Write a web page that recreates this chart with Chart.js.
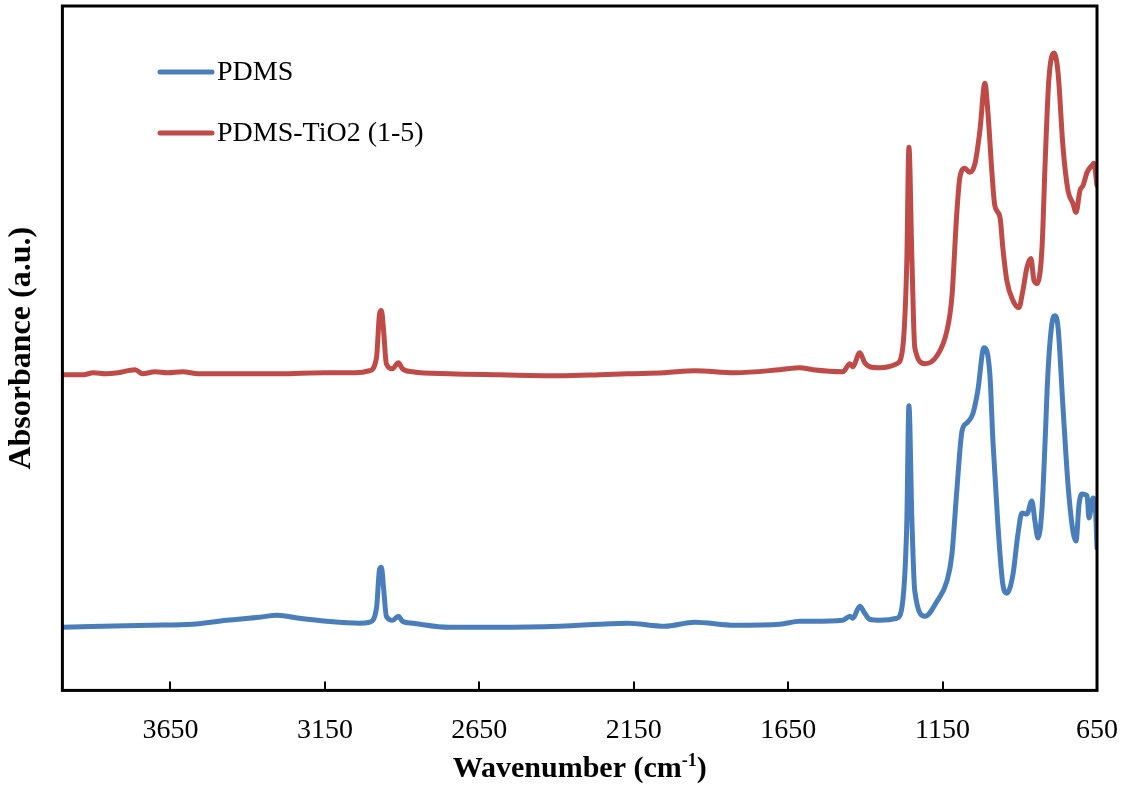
<!DOCTYPE html>
<html>
<head>
<meta charset="utf-8">
<script src="https://cdn.jsdelivr.net/npm/chart.js@4.4.1/dist/chart.umd.min.js"></script>
<style>
  html, body { margin: 0; padding: 0; background: #fff; }
  #wrap { width: 1126px; height: 788px; }
</style>
</head>
<body>
<div id="wrap"><canvas id="ftir"></canvas></div>
<script>
// FTIR spectra, absorbance in arbitrary units (curves offset as in the figure)
const pdmsWavenumber = [4000, 3719, 3579, 3469, 3362, 3304, 3233, 3145, 3038, 3006, 2983, 2973, 2967, 2960, 2951, 2931, 2912, 2899, 2866, 2747, 2584, 2390, 2170, 2050, 1953, 1823, 1677, 1612, 1570, 1473, 1450, 1441, 1418, 1402, 1386, 1353, 1298, 1279, 1266, 1259, 1249, 1240, 1207, 1168, 1136, 1120, 1104, 1087, 1071, 1052, 1036, 1016, 997, 987, 971, 955, 942, 922, 906, 893, 877, 861, 851, 841, 828, 818, 809, 796, 786, 776, 760, 744, 728, 718, 708, 699, 682, 676, 663, 656, 650];
const pdmsAbsorbance = [0.63, 0.65, 0.66, 0.70, 0.73, 0.75, 0.72, 0.69, 0.67, 0.68, 0.82, 1.21, 1.23, 1.02, 0.74, 0.70, 0.74, 0.69, 0.67, 0.63, 0.63, 0.64, 0.67, 0.64, 0.68, 0.65, 0.66, 0.69, 0.69, 0.70, 0.74, 0.72, 0.84, 0.77, 0.71, 0.70, 0.72, 0.89, 1.66, 2.84, 1.66, 0.99, 0.74, 0.89, 1.09, 1.35, 1.99, 2.59, 2.67, 2.76, 2.99, 3.42, 3.16, 2.49, 1.66, 1.06, 0.97, 1.16, 1.56, 1.77, 1.76, 1.89, 1.69, 1.52, 1.82, 2.49, 3.16, 3.66, 3.74, 3.62, 2.82, 2.06, 1.59, 1.49, 1.86, 1.96, 1.94, 1.72, 1.92, 1.86, 1.42];

const tio2Wavenumber = [4000, 3932, 3900, 3860, 3820, 3765, 3740, 3700, 3660, 3610, 3560, 3450, 3300, 3150, 3050, 3006, 2983, 2973, 2967, 2960, 2951, 2931, 2912, 2899, 2866, 2747, 2584, 2390, 2260, 2170, 2050, 1953, 1823, 1677, 1612, 1570, 1473, 1450, 1441, 1418, 1402, 1386, 1353, 1298, 1279, 1266, 1259, 1249, 1240, 1207, 1168, 1136, 1120, 1104, 1094, 1078, 1062, 1045, 1029, 1013, 1003, 990, 981, 964, 955, 942, 922, 903, 890, 877, 864, 854, 844, 828, 818, 806, 789, 776, 760, 744, 728, 718, 705, 695, 682, 666, 660, 650];
const tio2Absorbance = [3.15, 3.15, 3.17, 3.16, 3.17, 3.20, 3.16, 3.18, 3.17, 3.18, 3.16, 3.16, 3.16, 3.17, 3.17, 3.19, 3.32, 3.76, 3.79, 3.59, 3.26, 3.21, 3.27, 3.21, 3.18, 3.16, 3.15, 3.14, 3.15, 3.16, 3.17, 3.19, 3.17, 3.20, 3.22, 3.20, 3.18, 3.26, 3.23, 3.37, 3.27, 3.23, 3.22, 3.26, 3.42, 4.26, 5.42, 4.26, 3.42, 3.26, 3.34, 3.59, 3.92, 4.76, 5.12, 5.21, 5.17, 5.26, 5.59, 6.06, 5.76, 5.16, 4.84, 4.72, 4.42, 4.09, 3.89, 3.82, 3.99, 4.22, 4.31, 4.09, 4.06, 4.42, 5.26, 6.09, 6.36, 6.16, 5.42, 4.99, 4.86, 4.77, 4.99, 5.04, 5.17, 5.24, 5.26, 5.04];

const xTicks = [3650, 3150, 2650, 2150, 1650, 1150, 650];
const seriesNames = ['PDMS', 'PDMS-TiO2 (1-5)'];
const seriesColors = ['#4a7ebb', '#be4b48'];

const serif = "'Liberation Serif', 'Times New Roman', serif";
Chart.defaults.font.family = serif;
Chart.defaults.color = '#000';

const toPoints = (xs, ys) => xs.map((x, i) => ({ x: x, y: ys[i] }));

// box, inward tick marks, legend and x title with superscript
const decorations = {
    id: 'decorations',
    afterDraw(chart) {
        const ctx = chart.ctx;
        const a = chart.chartArea;
        const xs = chart.scales.x;
        ctx.save();
        ctx.strokeStyle = '#000';
        ctx.lineWidth = 3;
        ctx.strokeRect(a.left, a.top, a.right - a.left, a.bottom - a.top);

        ctx.lineWidth = 2;
        ctx.beginPath();
        xTicks.forEach(v => {
            const px = Math.round(xs.getPixelForValue(v));
            ctx.moveTo(px, a.bottom);
            ctx.lineTo(px, a.bottom - 9);
        });
        ctx.stroke();

        // legend
        ctx.lineCap = 'round';
        ctx.lineWidth = 5;
        ctx.font = '28px ' + serif;
        ctx.fillStyle = '#000';
        ctx.textBaseline = 'middle';
        chart.data.datasets.forEach((ds, i) => {
            const y = 72 + i * 61;
            ctx.strokeStyle = ds.borderColor;
            ctx.beginPath();
            ctx.moveTo(160, y);
            ctx.lineTo(212, y);
            ctx.stroke();
            ctx.fillText(ds.label, 217, y + 1);
        });

        // x axis title
        const cx = (a.left + a.right) / 2;
        const base = 777;
        const main = 'Wavenumber (cm';
        const sup = '-1';
        const close = ')';
        ctx.font = 'bold 30px ' + serif;
        const w1 = ctx.measureText(main).width;
        const w3 = ctx.measureText(close).width;
        ctx.font = 'bold 18px ' + serif;
        const w2 = ctx.measureText(sup).width;
        let x0 = cx - (w1 + w2 + w3) / 2;
        ctx.textBaseline = 'alphabetic';
        ctx.font = 'bold 30px ' + serif;
        ctx.fillText(main, x0, base);
        ctx.font = 'bold 18px ' + serif;
        ctx.fillText(sup, x0 + w1, base - 11);
        ctx.font = 'bold 30px ' + serif;
        ctx.fillText(close, x0 + w1 + w2, base);
        ctx.restore();
    }
};

new Chart(document.getElementById('ftir'), {
    type: 'line',
    data: {
        datasets: [
            { label: seriesNames[0], data: toPoints(pdmsWavenumber, pdmsAbsorbance), borderColor: seriesColors[0] },
            { label: seriesNames[1], data: toPoints(tio2Wavenumber, tio2Absorbance), borderColor: seriesColors[1] }
        ]
    },
    options: {
        responsive: true,
        maintainAspectRatio: false,
        animation: false,
        layout: { padding: { left: 0, right: 29, top: 6, bottom: 18 } },
        elements: {
            point: { radius: 0 },
            line: { borderWidth: 5, cubicInterpolationMode: 'monotone', borderJoinStyle: 'round', borderCapStyle: 'round' }
        },
        plugins: { legend: { display: false }, tooltip: { enabled: false } },
        scales: {
            x: {
                type: 'linear',
                reverse: true,
                min: 650,
                max: 4000,
                afterBuildTicks: s => { s.ticks = xTicks.map(v => ({ value: v })); },
                afterFit: s => { s.paddingLeft = 0; s.paddingRight = 0; },
                grid: { display: false, drawTicks: false },
                border: { display: false },
                ticks: { font: { size: 28 }, padding: 23, maxRotation: 0, autoSkip: false, callback: v => String(v) }
            },
            y: {
                min: 0,
                max: 6.83,
                grid: { display: false, drawTicks: false },
                border: { display: false },
                ticks: { display: false },
                title: {
                    display: true,
                    text: 'Absorbance (a.u.)',
                    font: { size: 32, weight: 'bold' },
                    padding: { top: 3, bottom: 21 }
                }
            }
        }
    },
    plugins: [decorations]
});
</script>
</body>
</html>
